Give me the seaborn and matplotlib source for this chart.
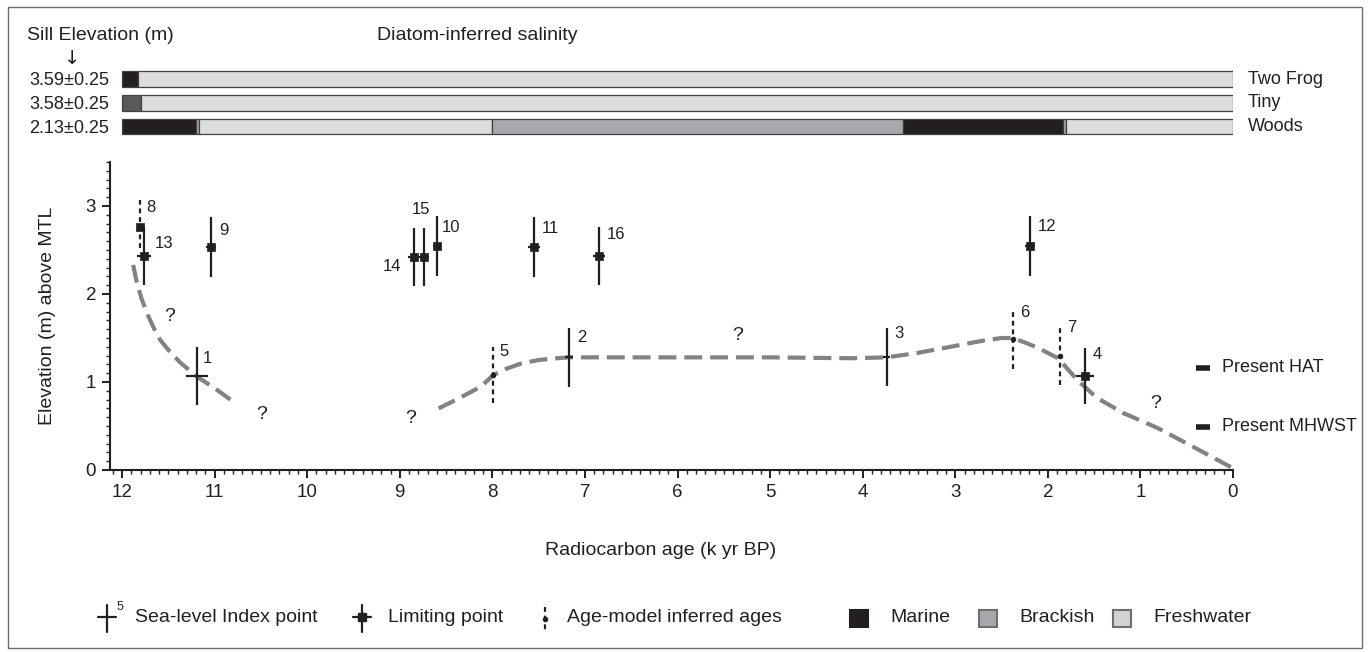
import matplotlib
matplotlib.use("Agg")
import matplotlib.pyplot as plt
import seaborn as sns
import numpy as np
from matplotlib.ticker import MultipleLocator
from matplotlib.transforms import blended_transform_factory
from matplotlib.patches import Rectangle

# ---------------- data ----------------
lakes = ["Two Frog", "Tiny", "Woods"]
sill_labels = ["3.59±0.25", "3.58±0.25", "2.13±0.25"]
twofrog_bounds = [12.0, 11.83, 0.0]
twofrog_zones = ["Marine", "Freshwater"]
tiny_bounds = [12.0, 11.79, 0.0]
tiny_zones = ["Transitional", "Freshwater"]
woods_bounds = [12.0, 11.20, 11.165, 8.00, 3.56, 1.84, 1.805, 0.0]
woods_zones = ["Marine", "Brackish", "Freshwater", "Brackish", "Marine", "Brackish", "Freshwater"]

index_ids = ["1", "2", "3"]
index_age = [11.19, 7.17, 3.74]
index_elev = [1.07, 1.28, 1.28]
index_elev_err = [0.33, 0.335, 0.33]
index_age_err = [0.12, 0.04, 0.04]

limit_ids = ["13", "9", "14", "15", "10", "11", "16", "12", "4"]
limit_age = [11.76, 11.04, 8.85, 8.74, 8.60, 7.55, 6.85, 2.19, 1.60]
limit_elev = [2.43, 2.53, 2.42, 2.42, 2.55, 2.53, 2.43, 2.55, 1.07]
limit_elev_err = [0.33, 0.34, 0.33, 0.33, 0.34, 0.34, 0.33, 0.34, 0.32]
limit_age_err = [0.075, 0.055, 0.06, 0.06, 0.045, 0.07, 0.065, 0.055, 0.10]

model_ids = ["8", "5", "6", "7"]
model_age = [11.81, 7.99, 2.38, 1.87]
model_elev = [2.76, 1.08, 1.49, 1.30]
model_err_low = [0.24, 0.32, 0.34, 0.33]
model_err_high = [0.31, 0.32, 0.34, 0.33]
model_is_limiting = [True, False, False, False]

curve1_age = [11.88, 11.84, 11.79, 11.73, 11.66, 11.59, 11.48, 11.37, 11.19, 11.00, 10.83]
curve1_elev = [2.33, 2.13, 1.95, 1.78, 1.62, 1.48, 1.34, 1.22, 1.06, 0.93, 0.80]

curve2_age = [8.58, 8.35, 8.12, 7.99, 7.85, 7.69, 7.50, 7.30, 7.17, 6.0, 5.0, 4.13,
              3.74, 3.41, 3.05, 2.70, 2.50, 2.38, 2.25, 2.11, 1.89, 1.78, 1.68,
              1.47, 1.19, 0.82, 0.46, 0.0]
curve2_elev = [0.70, 0.82, 0.95, 1.08, 1.15, 1.21, 1.25, 1.27, 1.28, 1.28, 1.28, 1.27,
               1.28, 1.33, 1.40, 1.47, 1.50, 1.50, 1.45, 1.39, 1.27, 1.14, 1.02,
               0.82, 0.65, 0.48, 0.28, 0.02]

q_age = [11.49, 10.49, 8.88, 5.35, 0.83]
q_elev = [1.74, 0.63, 0.59, 1.53, 0.75]

tide_labels = ["Present HAT", "Present MHWST"]
tide_elev = [1.16, 0.49]
tide_age = [0.32, 0.32]

xticks = list(range(0, 13))
yticks = [0, 1, 2, 3]

# ---------------- style ----------------
sns.set_theme(style="ticks")
plt.rcParams["font.family"] = ["Liberation Sans", "DejaVu Sans"]
ink = "#231f20"
zone_colors = {"Marine": "#231f20", "Brackish": "#a7a9ac",
               "Freshwater": "#dcddde", "Transitional": "#58595b"}
curve_color = "#808285"

W, H = 1370, 652
fig = plt.figure(figsize=(W / 100, H / 100), dpi=100)
fig.patch.set_facecolor("white")

# main axes
ax = fig.add_axes([110 / W, (H - 470) / H, (1233 - 110) / W, (470 - 162) / H])
ax.set_facecolor("none")
ax.set_xlim(12.13, 0)
ax.set_ylim(0, 3.5)
sns.despine(ax=ax)
for s in ["left", "bottom"]:
    ax.spines[s].set_linewidth(1.5)
    ax.spines[s].set_color(ink)
ax.set_xticks(xticks)
ax.set_xticklabels([str(t) for t in xticks])
ax.set_yticks(yticks)
ax.xaxis.set_minor_locator(MultipleLocator(0.1))
ax.yaxis.set_minor_locator(MultipleLocator(0.1))
ax.tick_params(which="major", direction="out", length=6, width=1.4, color=ink,
               labelsize=13.5, labelcolor=ink, pad=4)
ax.tick_params(which="minor", direction="out", length=3, width=1.0, color=ink)
ax.set_xlabel("Radiocarbon age (k yr BP)", fontsize=14, color=ink, va="center")
ax.xaxis.set_label_coords(0.49, -0.26)
ax.set_ylabel("Elevation (m) above MTL", fontsize=14, color=ink, va="center")
ax.yaxis.set_label_coords(-0.056, 0.5)

# curves
sns.lineplot(x=curve1_age, y=curve1_elev, ax=ax, color=curve_color, lw=3,
             sort=False, estimator=None, zorder=2)
ax.lines[-1].set_dashes([4.3, 1.9])
sns.lineplot(x=curve2_age, y=curve2_elev, ax=ax, color=curve_color, lw=3,
             sort=False, estimator=None, zorder=2)
ax.lines[-1].set_dashes([4.3, 1.9])
ax.lines[-1].set_clip_on(False)

# sea-level index points
ax.errorbar(index_age, index_elev, yerr=index_elev_err, xerr=index_age_err,
            fmt="none", ecolor=ink, elinewidth=1.6, capsize=0, zorder=4)

# limiting points
ax.errorbar(limit_age, limit_elev, yerr=limit_elev_err, xerr=limit_age_err,
            fmt="none", ecolor=ink, elinewidth=1.6, capsize=0, zorder=4)
sns.scatterplot(x=limit_age, y=limit_elev, ax=ax, marker="s", s=38, color=ink,
                edgecolor=ink, linewidth=0.5, zorder=5, legend=False)

# age-model inferred ages
eb = ax.errorbar(model_age, model_elev, yerr=[model_err_low, model_err_high],
                 fmt="none", ecolor=ink, elinewidth=1.6, capsize=0, zorder=4)
eb.lines[2][0].set_linestyle((0, (2.2, 1.7)))
m_age = np.array(model_age)
m_elev = np.array(model_elev)
m_lim = np.array(model_is_limiting)
sns.scatterplot(x=m_age[~m_lim], y=m_elev[~m_lim], ax=ax, marker="o", s=16,
                color=ink, edgecolor=ink, linewidth=0, zorder=5, legend=False)
sns.scatterplot(x=m_age[m_lim], y=m_elev[m_lim], ax=ax, marker="s", s=38,
                color=ink, edgecolor=ink, linewidth=0.5, zorder=5, legend=False)

# point labels (offsets in pixels from the point)
label_offsets = {
    "1": (6, 17, "left"), "2": (8, 20, "left"), "3": (8, 24, "left"),
    "4": (8, 21, "left"), "5": (6, 23, "left"), "6": (7, 26, "left"),
    "7": (7, 28, "left"), "8": (7, 20, "left"), "9": (8, 17, "left"),
    "10": (5, 18, "left"), "11": (8, 19, "left"), "12": (8, 19, "left"),
    "13": (10, 13, "left"), "14": (-12, -9, "right"), "15": (-3, 48, "center"),
    "16": (8, 22, "left"),
}
all_ids = index_ids + limit_ids + model_ids
all_age = index_age + limit_age + model_age
all_elev = index_elev + limit_elev + model_elev
for pid, a, e in zip(all_ids, all_age, all_elev):
    dx, dy, ha = label_offsets[pid]
    ax.annotate(pid, (a, e), xytext=(dx, dy), textcoords="offset pixels",
                ha=ha, va="center", fontsize=12, color=ink, zorder=6)

# question marks
for a, e in zip(q_age, q_elev):
    ax.text(a, e, "?", ha="center", va="center", fontsize=14, color=ink)

# present tidal levels
ax.plot(tide_age, tide_elev, ls="none", marker="_", ms=10, mew=4, color=ink,
        clip_on=False, zorder=5)
for a, e, t in zip(tide_age, tide_elev, tide_labels):
    ax.annotate(t, (a, e), xytext=(19, 0), textcoords="offset pixels",
                ha="left", va="center", fontsize=13, color=ink,
                annotation_clip=False)

# ---------------- salinity bars ----------------
axb = fig.add_axes([110 / W, (H - 139.6) / H, (1233 - 110) / W, 73.6 / H])
axb.set_xlim(12.13, 0)
axb.set_ylim(2.55, -0.55)
axb.axis("off")
for row, (bounds, zones) in enumerate([(twofrog_bounds, twofrog_zones),
                                       (tiny_bounds, tiny_zones),
                                       (woods_bounds, woods_zones)]):
    starts = np.array(bounds[:-1])
    ends = np.array(bounds[1:])
    axb.barh([row] * len(zones), width=starts - ends, left=ends, height=0.67,
             color=[zone_colors[z] for z in zones], edgecolor="#414042",
             linewidth=0.9)
trans_fb = blended_transform_factory(fig.transFigure, axb.transData)
for row, (lk, sl) in enumerate(zip(lakes, sill_labels)):
    axb.text(109 / W, row + 0.08, sl, transform=trans_fb, ha="right",
             va="center", fontsize=13, color=ink)
    axb.text(1248 / W, row, lk, transform=trans_fb, ha="left", va="center",
             fontsize=13, color=ink)

fig.text(27 / W, 1 - 35 / H, "Sill Elevation (m)", ha="left", va="center",
         fontsize=14, color=ink)
fig.text(72 / W, 1 - 59 / H, "↓", ha="center", va="center", fontsize=14,
         color=ink, family=["DejaVu Sans"])
fig.text(477 / W, 1 - 35 / H, "Diatom-inferred salinity", ha="center",
         va="center", fontsize=14, color=ink)

# ---------------- legend (pixel overlay) ----------------
axl = fig.add_axes([0, 0, 1, 1])
axl.set_xlim(0, W)
axl.set_ylim(H, 0)
axl.axis("off")
axl.set_zorder(-1)
lw_l = 1.6
# sea-level index point
axl.plot([107, 107], [605, 632], color=ink, lw=lw_l)
axl.plot([98, 116], [617, 617], color=ink, lw=lw_l)
axl.text(117, 607, "5", fontsize=9, ha="left", va="center", color=ink)
axl.text(135, 618, "Sea-level Index point", fontsize=14, ha="left", va="center", color=ink)
# limiting point
axl.plot([362, 362], [605, 632], color=ink, lw=lw_l)
axl.plot([353, 371], [617, 617], color=ink, lw=lw_l)
axl.plot([362], [617], marker="s", ms=5.5, color=ink)
axl.text(388, 618, "Limiting point", fontsize=14, ha="left", va="center", color=ink)
# age-model
axl.plot([545, 545], [607, 633], color=ink, lw=lw_l, ls=(0, (2.2, 1.7)))
axl.plot([545], [619], marker="o", ms=3, color=ink)
axl.text(567, 618, "Age-model inferred ages", fontsize=14, ha="left", va="center", color=ink)
# salinity zones
for cx, name, fc, ec in [(859, "Marine", zone_colors["Marine"], zone_colors["Marine"]),
                         (988, "Brackish", "#a7a9ac", "#6d6e71"),
                         (1122, "Freshwater", "#d1d3d4", "#6d6e71")]:
    axl.add_patch(Rectangle((cx - 9, 610), 18, 17, facecolor=fc, edgecolor=ec, lw=1.5))
    axl.text(cx + 31, 618, name, fontsize=14, ha="left", va="center", color=ink)

# outer frame
axl.add_patch(Rectangle((8, 7), 1354, 641, fill=False, edgecolor="#6d6e71", lw=1))

fig.savefig("out.png", dpi=100, facecolor="white")
